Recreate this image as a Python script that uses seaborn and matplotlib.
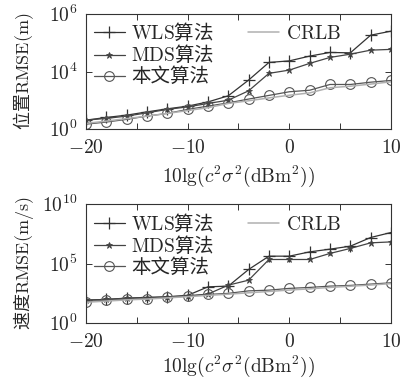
import numpy as np
import pandas as pd
import matplotlib
matplotlib.use("Agg")
import matplotlib.pyplot as plt
from matplotlib.lines import Line2D
from matplotlib.ticker import FixedLocator, FixedFormatter
import seaborn as sns

# ---------------- data ----------------
x_db = [-20, -18, -16, -14, -12, -10, -8, -6, -4, -2, 0, 2, 4, 6, 8, 10]

# position RMSE (log10 of value)
pos_wls_log = [0.47, 0.61, 0.73, 0.90, 1.06, 1.20, 1.42, 1.74, 2.56, 3.48, 3.56, 3.81, 4.00, 3.98, 4.90, 5.11]
pos_mds_log = [0.47, 0.56, 0.68, 0.85, 1.03, 1.16, 1.34, 1.51, 2.00, 2.91, 3.08, 3.43, 3.74, 3.91, 4.12, 4.16]
pos_ours_log = [0.26, 0.37, 0.51, 0.68, 0.82, 1.03, 1.20, 1.37, 1.57, 1.76, 1.95, 2.03, 2.33, 2.33, 2.45, 2.54]
pos_crlb_log = [0.30, 0.42, 0.55, 0.68, 0.82, 0.97, 1.12, 1.34, 1.48, 1.63, 1.77, 1.89, 2.16, 2.24, 2.35, 2.47]

# velocity RMSE (log10 of value)
vel_wls_log = [1.93, 1.99, 2.10, 2.16, 2.21, 2.33, 3.05, 3.11, 4.51, 5.63, 5.63, 5.99, 6.22, 6.47, 7.20, 7.62]
vel_mds_log = [1.93, 1.99, 2.08, 2.13, 2.21, 2.29, 2.44, 3.19, 3.61, 5.35, 5.35, 5.35, 5.86, 6.28, 6.75, 6.83]
vel_ours_log = [1.79, 1.93, 2.02, 2.04, 2.16, 2.27, 2.41, 2.50, 2.71, 2.77, 2.92, 3.00, 3.11, 3.17, 3.28, 3.39]
vel_crlb_log = [1.75, 1.85, 1.95, 2.02, 2.12, 2.22, 2.33, 2.43, 2.55, 2.66, 2.78, 2.88, 3.00, 3.10, 3.20, 3.32]

series_names = ["WLS算法", "MDS算法", "本文算法", "CRLB"]
legend_labels = [r"$\mathrm{WLS}$算法", r"$\mathrm{MDS}$算法", "本文算法", r"$\mathrm{CRLB}$"]

x_ticks = [-20, -15, -10, -5, 0, 5, 10]
x_ticklabels = [r"$-20$", "", r"$-10$", "", r"$0$", "", r"$10$"]

pos_yticks = [1e0, 1e3, 1e6]
pos_yticklabels = [r"$10^0$", r"$10^4$", r"$10^6$"]
vel_yticks = [1e0, 1e5, 1e10]
vel_yticklabels = [r"$10^0$", r"$10^5$", r"$10^{10}$"]

xlabel = r"$10\mathrm{lg}(c^2\sigma^2(\mathrm{dBm}^2))$"
pos_ylabel = r"位置$\mathrm{RMSE(m)}$"
vel_ylabel = r"速度$\mathrm{RMSE(m/s)}$"

# ---------------- style ----------------
sns.set_theme(style="ticks")
plt.rcParams["font.family"] = ["Noto Sans CJK SC", "DejaVu Sans"]
plt.rcParams["mathtext.fontset"] = "cm"
plt.rcParams["axes.unicode_minus"] = True

styles = {
    "WLS算法": dict(color="#333333", marker="+", ms=8, mew=0.9, mfc="none", lw=0.9),
    "MDS算法": dict(color="#444444", marker="*", ms=5, mew=0.6, lw=0.9),
    "本文算法": dict(color="#555555", marker="o", ms=7, mew=0.8, mfc="none", lw=0.9),
    "CRLB": dict(color="#b0b0b0", marker=None, lw=1.1),
}

fig = plt.figure(figsize=(4.09, 3.81), dpi=100)
ax1 = fig.add_axes([0.210, 0.661, 0.746, 0.302])
ax2 = fig.add_axes([0.210, 0.152, 0.746, 0.312])


def draw(ax, logs, yticks, yticklabels, ylim, ylabel, anchor, xpad):
    handles = []
    for name, lg in zip(series_names, logs):
        df = pd.DataFrame({"x": x_db, "y": np.power(10.0, lg)})
        st = styles[name]
        kw = dict(color=st["color"], linewidth=st["lw"])
        if st["marker"] is not None:
            kw.update(marker=st["marker"], markersize=st["ms"], markeredgewidth=st["mew"],
                      markeredgecolor=st["color"])
            if "mfc" in st:
                kw["markerfacecolor"] = st["mfc"]
            else:
                kw["markerfacecolor"] = st["color"]
        sns.lineplot(data=df, x="x", y="y", ax=ax, legend=False, **kw)
        handles.append(Line2D([], [], **{k: v for k, v in kw.items()}))
    ax.set_yscale("log")
    ax.set_xlim(-20, 10)
    ax.set_ylim(*ylim)
    ax.xaxis.set_major_locator(FixedLocator(x_ticks))
    ax.xaxis.set_major_formatter(FixedFormatter(x_ticklabels))
    ax.yaxis.set_major_locator(FixedLocator(yticks))
    ax.yaxis.set_major_formatter(FixedFormatter(yticklabels))
    ax.yaxis.set_minor_locator(FixedLocator([]))
    ax.tick_params(which="both", direction="in", top=True, right=True, length=4,
                   width=0.7, color="#333333", labelsize=14, pad=6)
    for sp in ax.spines.values():
        sp.set_color("#333333")
        sp.set_linewidth(0.8)
    ax.set_xlabel(xlabel, fontsize=14, labelpad=xpad)
    ax.set_ylabel(ylabel, fontsize=13)
    ax.yaxis.set_label_coords(-0.165, 0.5)
    blank = Line2D([], [], linestyle="none")
    hs = [handles[0], handles[1], handles[2], handles[3], blank, blank]
    ls = [legend_labels[0], legend_labels[1], legend_labels[2], legend_labels[3], "", ""]
    ax.legend(hs, ls, ncol=2, loc="upper left", bbox_to_anchor=anchor, frameon=False,
              fontsize=14, handlelength=1.6, handletextpad=0.35, labelspacing=0.0,
              columnspacing=1.7, borderaxespad=0.0, borderpad=0.0)


draw(ax1, [pos_wls_log, pos_mds_log, pos_ours_log, pos_crlb_log],
     pos_yticks, pos_yticklabels, (1e0, 1e6), pos_ylabel, (0.025, 0.93), 4)
draw(ax2, [vel_wls_log, vel_mds_log, vel_ours_log, vel_crlb_log],
     vel_yticks, vel_yticklabels, (1e0, 1e10), vel_ylabel, (0.025, 0.93), 1)

fig.savefig("out.png", dpi=100)
